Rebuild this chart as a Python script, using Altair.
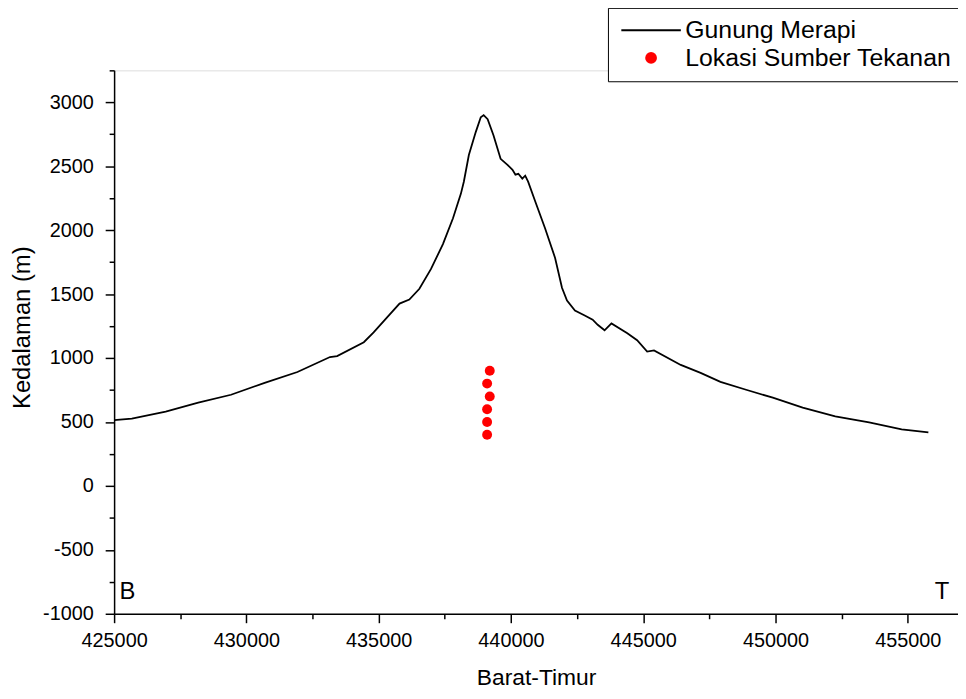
import altair as alt
import pandas as pd

FONT = "Liberation Sans"

# Topographic profile (Gunung Merapi)
profile_x = [425000, 425670, 426950, 428180, 429420, 430690, 431930, 433160, 433430, 434440,
             434810, 435370, 435790, 436160, 436540, 436980, 437430, 437810, 438110, 438220,
             438410, 438670, 438860, 438970, 439120, 439340, 439610, 439870, 440060, 440170,
             440280, 440430, 440540, 440650, 440920, 441290, 441670, 441930, 442120, 442420,
             442790, 443090, 443280, 443540, 443800, 444400, 444770, 445150, 445410, 446420,
             447170, 447920, 448890, 449900, 451030, 452260, 453540, 454770, 455780]
profile_y = [514, 527, 581, 651, 713, 806, 891, 1008, 1015, 1124,
             1201, 1330, 1426, 1457, 1542, 1697, 1891, 2093, 2286, 2379,
             2588, 2767, 2883, 2900, 2868, 2743, 2558, 2511, 2472, 2434,
             2441, 2403, 2426, 2379, 2224, 2015, 1783, 1550, 1449, 1372,
             1333, 1300, 1260, 1217, 1271, 1194, 1139, 1050, 1060, 946,
             884, 814, 752, 690, 612, 543, 496, 442, 419]

# Pressure source locations
source_x = [439200, 439100, 439200, 439100, 439100, 439100]
source_y = [900, 800, 700, 600, 500, 400]

series_names = ["Gunung Merapi", "Lokasi Sumber Tekanan"]
series_colors = ["black", "#ff0000"]

# Axis ticks
x_major = [425000, 430000, 435000, 440000, 445000, 450000, 455000]
x_minor = [427500, 432500, 437500, 442500, 447500, 452500]
y_major = [-1000, -500, 0, 500, 1000, 1500, 2000, 2500, 3000]
y_minor = [-750, -250, 250, 750, 1250, 1750, 2250, 2750, 3250]

# Corner annotations
label_text = ["B", "T"]
label_x = [425500, 456300]
label_y = [-830, -830]

line_df = pd.DataFrame({"x": profile_x, "y": profile_y})
src_df = pd.DataFrame({"x": source_x, "y": source_y, "series": series_names[1]})
lab_df = pd.DataFrame({"x": label_x, "y": label_y, "t": label_text})

xs = alt.Scale(domain=[425000, 456900], nice=False, zero=False)
ys = alt.Scale(domain=[-1000, 3250], nice=False, zero=False)

common_axis = dict(
    domainColor="black", domainWidth=1.5, tickColor="black", tickWidth=1.5, grid=False,
    labelFont=FONT, labelFontSize=20, labelColor="black", titleFont=FONT,
    titleFontWeight="normal", titleColor="black", labelExpr="'' + datum.value",
    labelOverlap=False, labelFlush=False,
)
minor_axis = dict(domain=False, labels=False, grid=False, tickColor="black", tickWidth=1.5,
                  tickSize=5, title=None)

line = alt.Chart(line_df).mark_line(color="black", strokeWidth=1.8).encode(
    x=alt.X("x:Q", scale=xs, axis=alt.Axis(orient="bottom", values=x_major, tickSize=9,
                                           labelPadding=8, title="Barat-Timur", titleFontSize=23,
                                           titlePadding=16, **common_axis)),
    y=alt.Y("y:Q", scale=ys, axis=alt.Axis(orient="left", values=y_major, tickSize=9,
                                           labelPadding=12, title="Kedalaman (m)",
                                           titleFontSize=24, titlePadding=8, titleY=259,
                                           **common_axis)),
)

legend = alt.Legend(
    title=None, orient="none", legendX=498, legendY=-63, direction="vertical",
    labelFont=FONT, labelFontSize=25, labelColor="black", labelLimit=500,
    labelOffset=22, symbolOffset=21,
    padding=10, strokeColor="black", fillColor="white", rowPadding=2,
    symbolType={"expr": "datum.value == 'Gunung Merapi' ? 'stroke' : 'circle'"},
    symbolSize={"expr": "datum.value == 'Gunung Merapi' ? 3600 : 140"},
    symbolStrokeColor={"expr": "datum.value == 'Gunung Merapi' ? 'black' : 'transparent'"},
    symbolStrokeWidth=2,
    symbolOpacity=1,
)

points = alt.Chart(src_df).mark_circle(size=100, opacity=1).encode(
    x=alt.X("x:Q", scale=xs, axis=alt.Axis(orient="bottom", values=x_minor, **minor_axis)),
    y=alt.Y("y:Q", scale=ys, axis=alt.Axis(orient="left", values=y_minor, **minor_axis)),
    color=alt.Color("series:N", scale=alt.Scale(domain=series_names, range=series_colors),
                    legend=legend),
)

labels = alt.Chart(lab_df).mark_text(font=FONT, fontSize=24, color="black", baseline="middle",
                                     align="center").encode(
    x=alt.X("x:Q", scale=xs, axis=None),
    y=alt.Y("y:Q", scale=ys, axis=None),
    text="t:N",
)

chart = (
    alt.layer(line, points, labels)
    .resolve_axis(x="independent", y="independent")
    .properties(width=851, height=548,
                padding={"left": 107, "top": 60, "right": 0, "bottom": 75},
                autosize=alt.AutoSizeParams(type="none"))
    .configure_view(stroke=None)
    .configure(font=FONT)
)

chart.save("out.html", embed_options={"renderer": "svg", "actions": False})
